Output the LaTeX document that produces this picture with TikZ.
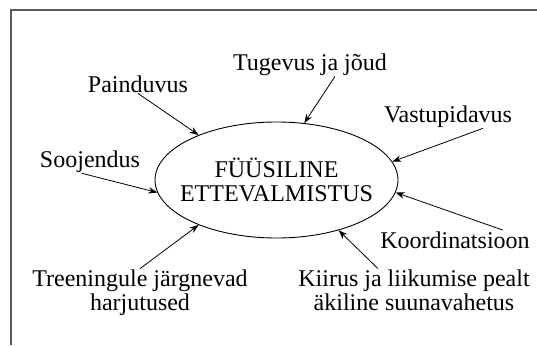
\documentclass[tikz,border=0pt]{standalone}
\usepackage{fontspec}
\setmainfont{Liberation Serif}
\usetikzlibrary{shapes.geometric,arrows.meta}

\begin{document}
\begin{tikzpicture}[x=1pt,y=-1pt,
    lbl/.style={inner sep=1pt,align=center,font=\fontsize{24}{23.5}\selectfont},
    arr/.style={-{Stealth[length=9pt,width=6.5pt]},line width=.8pt}]
  \useasboundingbox (0,0) rectangle (537,345);
  % frame
  \draw[line width=1.2pt,black!65] (537,10) -- (11,10) -- (11,345);
  \node[draw,ellipse,line width=.9pt,lbl,inner xsep=-20pt,inner ysep=0pt,
        minimum width=243pt,minimum height=116pt] (n0) at (276.5,180) {FÜÜSILINE\\ETTEVALMISTUS};
  \node[lbl,anchor=base] (n1) at (310,70) {Tugevus ja jõud};
  \node[lbl,anchor=base] (n2) at (138,92) {Painduvus};
  \node[lbl,anchor=base] (n3) at (448,122) {Vastupidavus};
  \node[lbl,anchor=base] (n4) at (90,167) {Soojendus};
  \node[lbl,anchor=base] (n5) at (455,248) {Koordinatsioon};
  % two-line labels: base is the last line
  \node[lbl,anchor=base] (n6) at (140,310) {Treeningule järgnevad\\harjutused};
  \node[lbl,anchor=base] (n7) at (414,310) {Kiirus ja liikumise pealt\\äkiline suunavahetus};
  \draw[arr] ([xshift=25pt]n1.south) -- (n0.64);
  \draw[arr] (n2.south) -- (n0.150);
  \draw[arr] ([xshift=35pt]n3.south) -- (n0.9);
  \draw[arr] ([xshift=-8pt]n4.south) -- (n0.186);
  \draw[arr] ([xshift=48pt]n5.north) -- (n0.354);
  \draw[arr] (n6.north) -- (n0.210);
  \draw[arr] ([xshift=-36pt]n7.north) -- (n0.321);
\end{tikzpicture}
\end{document}
